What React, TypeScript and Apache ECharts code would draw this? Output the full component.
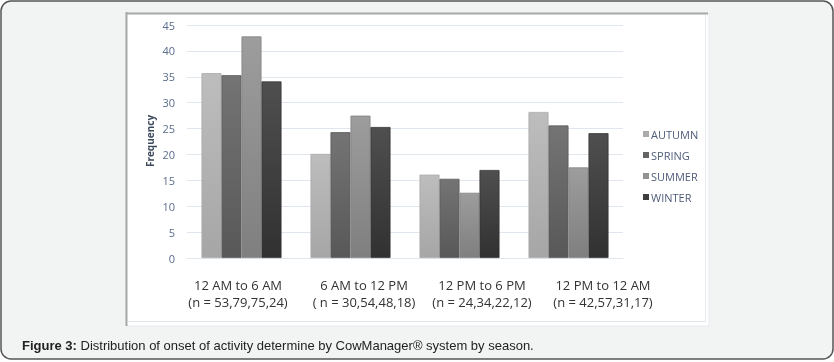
import React, { useEffect, useRef } from "react";
import * as echarts from "echarts";

const categories = ["12 AM to 6 AM", "6 AM to 12 PM", "12 PM to 6 PM", "12 PM to 12 AM"];
const sampleSizes = ["(n = 53,79,75,24)", "( n = 30,54,48,18)", "(n = 24,34,22,12)", "(n = 42,57,31,17)"];
const seasons = ["AUTUMN", "SPRING", "SUMMER", "WINTER"];
const autumn = [35.7, 20.1, 16.1, 28.2];
const spring = [35.3, 24.3, 15.3, 25.6];
const summer = [42.8, 27.5, 12.6, 17.5];
const winter = [34.1, 25.3, 17.0, 24.1];
const yTicks = { min: 0, max: 45, interval: 5 };
const caption = "Distribution of onset of activity determine by CowManager® system by season.";

const seasonColors: Record<string, { top: string; bottom: string; border: string; legend: string }> = {
  AUTUMN: { top: "#bdbdbd", bottom: "#a6a6a6", border: "#a9a9a9", legend: "#ababab" },
  SPRING: { top: "#747474", bottom: "#585858", border: "#5a5a5a", legend: "#646464" },
  SUMMER: { top: "#9d9d9d", bottom: "#7f7f7f", border: "#838383", legend: "#929292" },
  WINTER: { top: "#4f4f4f", bottom: "#313131", border: "#333333", legend: "#3e3e3e" },
};

const seriesValues = [autumn, spring, summer, winter];

// horizontal padding per category label (the source's labels sit off the bar centres)
const labelPads: number[][] = [
  [0, 7, 0, 0],
  [0, 0, 0, 27],
  [0, 0, 0, 45],
  [0, 0, 0, 69],
];

export default function App() {
  const ref = useRef<HTMLDivElement>(null);

  useEffect(() => {
    if (!ref.current) return;
    const chart = echarts.init(ref.current, undefined, { renderer: "svg" });
    const rich: Record<string, any> = {};
    labelPads.forEach((p, i) => {
      rich["c" + i] = { fontFamily: "Open Sans", fontSize: 13, color: "#333333", lineHeight: 17, padding: p };
    });

    chart.setOption({
      animation: false,
      textStyle: { fontFamily: "Open Sans" },
      grid: { left: 187, right: 211, top: 25, bottom: 104, containLabel: false },
      graphic: [
        {
          type: "rect",
          z: -10,
          silent: true,
          shape: { x: 1, y: 1, width: 832, height: 358, r: 10 },
          style: { fill: "#f2f3f3", stroke: "#555555", lineWidth: 1.5 },
        },
        {
          type: "rect",
          z: -9,
          silent: true,
          shape: { x: 126, y: 13, width: 583, height: 313 },
          style: { fill: "#ffffff", stroke: "#e6e9ec", lineWidth: 1 },
        },
        {
          type: "line",
          z: -8,
          silent: true,
          shape: { x1: 126.5, y1: 12, x2: 126.5, y2: 326 },
          style: { stroke: "#a8a8a8", lineWidth: 2 },
        },
        {
          type: "line",
          z: -8,
          silent: true,
          shape: { x1: 126, y1: 13.5, x2: 708, y2: 13.5 },
          style: { stroke: "#a8a8a8", lineWidth: 2 },
        },
        {
          type: "line",
          z: -8,
          silent: true,
          shape: { x1: 128, y1: 321.5, x2: 706, y2: 321.5 },
          style: { stroke: "#dfe5ec", lineWidth: 1 },
        },
        {
          type: "line",
          z: -8,
          silent: true,
          shape: { x1: 705.5, y1: 15, x2: 705.5, y2: 322 },
          style: { stroke: "#e6ebf0", lineWidth: 1 },
        },
        {
          type: "text",
          silent: true,
          x: 150,
          y: 141,
          rotation: Math.PI / 2,
          style: {
            text: "Frequency",
            fontFamily: "Open Sans",
            fontSize: 10,
            fontWeight: "bold",
            fill: "#3d4a5e",
            align: "center",
            verticalAlign: "middle",
          },
        },
        {
          type: "text",
          silent: true,
          x: 22,
          y: 345,
          style: {
            text: "{b|Figure 3:} " + caption,
            fontFamily: "Liberation Sans",
            fontSize: 13,
            fill: "#222222",
            verticalAlign: "middle",
            rich: {
              b: { fontFamily: "Liberation Sans", fontSize: 13, fontWeight: "bold", fill: "#222222" },
            },
          },
        },
      ],
      legend: {
        orient: "vertical",
        left: 643,
        top: 128,
        padding: 0,
        icon: "rect",
        itemWidth: 6,
        itemHeight: 6,
        itemGap: 9,
        textStyle: { fontFamily: "Open Sans", fontSize: 11, color: "#4f5d7a", lineHeight: 12, padding: [0, 0, 0, -3] },
        data: seasons.map((s) => ({ name: s, itemStyle: { color: seasonColors[s].legend, borderWidth: 0 } })),
      },
      xAxis: {
        type: "category",
        data: categories,
        axisTick: { show: false },
        axisLine: { show: true, lineStyle: { color: "#dfe6ee", width: 1 } },
        axisLabel: {
          interval: 0,
          margin: 18,
          formatter: (v: string, i: number) => `{c${i}|${v}}\n{c${i}|${sampleSizes[i]}}`,
          rich,
        },
      },
      yAxis: {
        type: "value",
        min: yTicks.min,
        max: yTicks.max,
        interval: yTicks.interval,
        axisLine: { show: false },
        axisTick: { show: false },
        axisLabel: { fontFamily: "Open Sans", fontSize: 11, color: "#5a6d8b", margin: 12 },
        splitLine: { lineStyle: { color: "#dfe6ee", width: 1 } },
      },
      series: seasons.map((s, i) => ({
        name: s,
        type: "bar",
        barWidth: 20,
        barGap: "0%",
        data: seriesValues[i],
        itemStyle: {
          color: new echarts.graphic.LinearGradient(0, 0, 0, 1, [
            { offset: 0, color: seasonColors[s].top },
            { offset: 1, color: seasonColors[s].bottom },
          ]),
          borderColor: seasonColors[s].border,
          borderWidth: 0.8,
        },
      })),
    });
    return () => chart.dispose();
  }, []);

  return (
    <div style={{ position: "fixed", left: 0, top: 0, width: 834, height: 362 }}>
      <div ref={ref} style={{ width: 834, height: 362 }} />
    </div>
  );
}
